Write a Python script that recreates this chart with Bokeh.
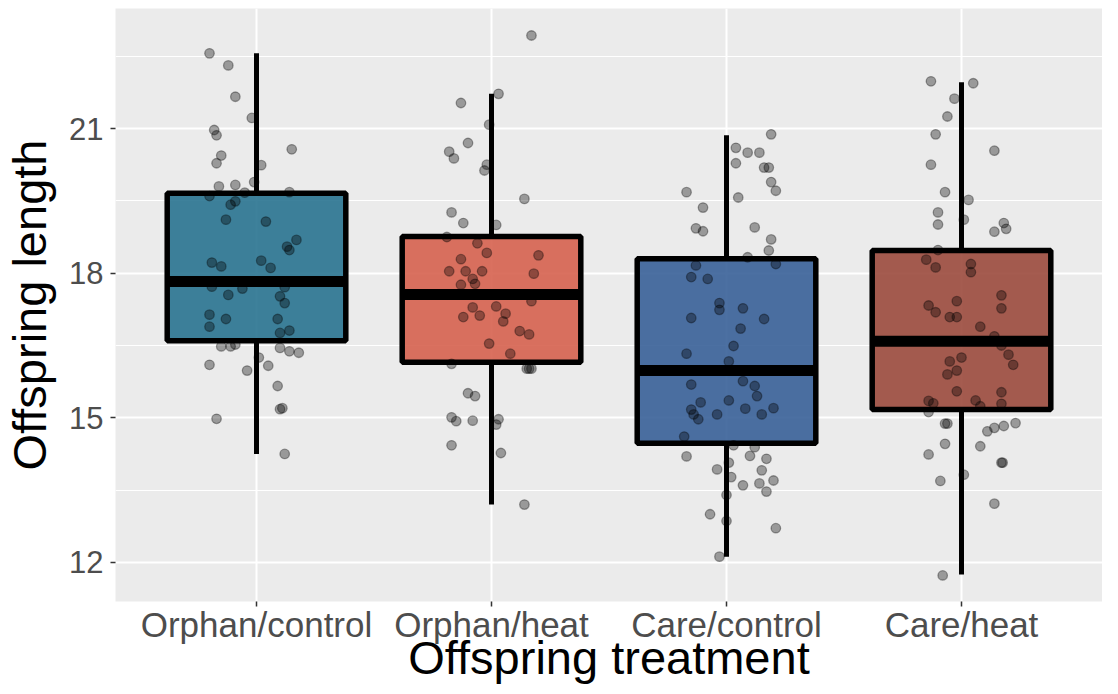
import numpy as np
from bokeh.plotting import figure
from bokeh.models import Range1d, FixedTicker, ColumnDataSource
from bokeh.embed import file_html
from bokeh.resources import INLINE

categories = ["Orphan/control", "Orphan/heat", "Care/control", "Care/heat"]
box_colors = ["#297390", "#D6624F", "#386098", "#9B4A3D"]
q1 = [16.60, 16.15, 14.47, 15.17]
median = [17.83, 17.56, 15.98, 16.59]
q3 = [19.66, 18.76, 18.30, 18.47]
whisker_low = [14.25, 13.20, 12.12, 11.75]
whisker_high = [22.56, 21.72, 20.86, 21.96]

# jittered observations: values and horizontal jitter offsets (category units)
pts1_y = [22.56, 22.31, 21.66, 21.22, 20.97, 20.86, 20.57, 20.44, 20.28, 20.24, 19.89, 19.80, 19.83, 19.67,
          19.68, 19.60, 19.42, 19.49, 19.11, 19.07, 18.69, 18.55, 18.48, 18.22, 18.14, 18.26, 18.11, 17.72,
          17.68, 17.71, 17.55, 17.52, 17.38, 17.14, 17.05, 17.05, 16.89, 16.81, 16.76, 16.48, 16.48, 16.52,
          16.45, 16.38, 16.35, 16.25, 16.10, 16.08, 15.98, 15.66, 15.18, 15.20, 14.98, 14.25]
pts1_dx = [-0.20, -0.12, -0.09, -0.02, -0.18, -0.17, 0.15, -0.15, -0.17, 0.02, -0.01, -0.16, -0.09, -0.05,
           0.14, -0.20, -0.11, -0.09, -0.13, 0.04, 0.17, 0.13, 0.14, -0.19, -0.15, 0.02, 0.06, -0.19,
           -0.06, 0.12, -0.12, 0.10, 0.12, -0.20, -0.13, 0.09, -0.20, 0.14, 0.10, -0.15, -0.11, -0.09,
           0.10, 0.14, 0.18, 0.01, -0.20, 0.05, -0.04, 0.09, 0.10, 0.11, -0.17, 0.12]
pts2_y = [22.93, 21.72, 21.53, 21.08, 20.70, 20.52, 20.38, 20.25, 20.13, 19.54, 19.26, 19.04, 19.00, 18.75,
          18.62, 18.42, 18.37, 18.29, 18.04, 18.04, 18.04, 17.99, 17.88, 17.76, 17.78, 17.42, 17.29, 17.31,
          17.16, 17.09, 17.12, 17.00, 16.80, 16.73, 16.54, 16.33, 16.12, 16.02, 16.02, 16.02, 15.51, 15.45,
          15.01, 14.93, 14.94, 14.97, 14.86, 14.43, 14.27, 13.20]
pts2_dx = [0.17, 0.03, -0.13, -0.01, -0.10, -0.18, -0.16, -0.02, -0.03, 0.14, -0.17, -0.12, 0.02, -0.19,
           -0.06, -0.02, 0.20, -0.13, -0.18, -0.11, -0.04, 0.18, -0.08, -0.13, -0.07, 0.17, -0.08, 0.02,
           0.06, -0.12, -0.05, 0.05, 0.12, 0.16, -0.01, 0.08, -0.17, 0.15, 0.16, 0.17, -0.10, -0.07,
           -0.17, -0.15, -0.08, 0.03, 0.02, -0.17, 0.04, 0.14]
pts3_y = [20.88, 20.60, 20.50, 20.50, 20.28, 20.19, 20.19, 19.89, 19.71, 19.68, 19.57, 19.36, 18.93, 18.87,
          18.95, 18.70, 18.47, 18.33, 18.16, 18.19, 17.92, 17.88, 17.38, 17.24, 17.27, 17.07, 17.05, 16.85,
          16.49, 16.33, 16.17, 15.76, 15.66, 15.69, 15.45, 15.32, 15.36, 15.19, 15.20, 15.17, 15.07, 14.97,
          15.07, 15.07, 14.61, 14.43, 14.39, 14.20, 14.21, 14.15, 14.07, 13.93, 13.91, 13.77, 13.70, 13.60,
          13.64, 13.47, 13.40, 13.00, 12.86, 12.71, 12.12]
pts3_dx = [0.19, 0.04, 0.09, 0.14, 0.04, 0.16, 0.18, 0.19, 0.21, -0.17, 0.05, -0.10, -0.13, -0.10,
           0.12, 0.19, 0.18, 0.09, -0.13, 0.21, -0.15, -0.08, -0.03, -0.03, 0.07, -0.15, 0.16, 0.06,
           0.03, -0.17, 0.01, 0.07, 0.12, -0.15, 0.13, -0.11, 0.01, 0.08, 0.20, -0.15, -0.14, -0.12,
           -0.04, 0.15, -0.18, 0.03, 0.12, -0.17, 0.10, 0.17, 0.01, -0.04, 0.15, 0.02, 0.20, 0.07,
           0.14, 0.17, 0.00, -0.07, 0.00, 0.21, -0.03]
pts4_y = [21.98, 21.94, 21.62, 21.25, 20.88, 20.54, 20.25, 19.68, 19.52, 19.26, 19.11, 19.01, 19.04, 18.92,
          18.86, 18.48, 18.28, 18.12, 18.19, 18.02, 17.54, 17.42, 17.33, 17.19, 17.27, 17.09, 17.09, 16.89,
          16.69, 16.50, 16.31, 16.10, 16.17, 16.25, 15.98, 15.90, 15.55, 15.53, 15.35, 15.30, 15.12, 15.36,
          15.24, 15.29, 14.88, 14.88, 14.72, 14.79, 14.83, 14.89, 14.46, 14.41, 14.24, 14.07, 14.07, 13.82,
          13.69, 13.22, 11.73]
pts4_dx = [-0.13, 0.05, -0.03, -0.06, -0.11, 0.14, -0.13, -0.07, 0.03, -0.10, 0.01, -0.10, 0.18, 0.19,
           0.14, -0.10, -0.15, -0.11, 0.04, 0.04, 0.17, -0.02, -0.14, -0.11, 0.17, -0.05, -0.02, 0.08,
           0.14, 0.17, 0.20, 0.22, -0.05, 0.00, -0.02, -0.06, -0.02, 0.17, -0.14, -0.12, -0.14, 0.06,
           0.08, 0.17, -0.07, -0.06, 0.11, 0.14, 0.18, 0.23, -0.07, 0.08, -0.14, 0.17, 0.175, 0.01,
           -0.09, 0.14, -0.08]

x_title = "Offspring treatment"
y_title = "Offspring length"

positions = list(range(1, len(categories) + 1))
BOX_W = 0.76

p = figure(width=1102, height=686, x_range=Range1d(0.4, 4.6), y_range=Range1d(11.19, 23.49),
           output_backend="svg", toolbar_location=None,
           min_border_left=107, min_border_right=0, min_border_top=8, min_border_bottom=85)
p.background_fill_color = "#EBEBEB"
p.border_fill_color = "white"
p.outline_line_color = None

# grid
p.xgrid.ticker = FixedTicker(ticks=positions)
p.xgrid.grid_line_color = "white"
p.xgrid.grid_line_width = 2
p.ygrid.ticker = FixedTicker(ticks=[12, 15, 18, 21], minor_ticks=[13.5, 16.5, 19.5, 22.5])
p.ygrid.grid_line_color = "white"
p.ygrid.grid_line_width = 2
p.ygrid.minor_grid_line_color = "white"
p.ygrid.minor_grid_line_width = 1

# axes
p.xaxis.ticker = FixedTicker(ticks=positions)
p.xaxis.major_label_overrides = {pos: c for pos, c in zip(positions, categories)}
p.yaxis.ticker = FixedTicker(ticks=[12, 15, 18, 21])
for ax in (p.xaxis[0], p.yaxis[0]):
    ax.axis_line_color = None
    ax.major_tick_line_color = "#333333"
    ax.major_tick_line_width = 1.5
    ax.major_tick_in = 0
    ax.major_tick_out = 5
    ax.minor_tick_line_color = None
    ax.major_label_text_font = "Liberation Sans"
    ax.major_label_text_color = "#4D4D4D"
    ax.major_label_text_line_height = 1.0
    ax.axis_label_text_font = "Liberation Sans"
    ax.axis_label_text_font_style = "normal"
    ax.axis_label_text_color = "black"
    ax.axis_label_text_font_size = "47px"
    ax.axis_label_text_line_height = 1.0
p.xaxis.major_label_text_font_size = "35px"
p.yaxis.major_label_text_font_size = "31px"
p.xaxis.major_label_standoff = -2
p.yaxis.major_label_standoff = 7
p.xaxis.axis_label = x_title
p.yaxis.axis_label = y_title
p.xaxis.axis_label_standoff = -16
p.yaxis.axis_label_standoff = 10

# whiskers
p.segment(x0=positions, y0=q3, x1=positions, y1=whisker_high, line_color="black", line_width=5)
p.segment(x0=positions, y0=q1, x1=positions, y1=whisker_low, line_color="black", line_width=5)
# boxes
p.vbar(x=positions, width=BOX_W, top=q3, bottom=q1, fill_color=box_colors, fill_alpha=0.9,
       line_color="black", line_width=5.5)
# medians
p.segment(x0=[x - BOX_W / 2 for x in positions], x1=[x + BOX_W / 2 for x in positions],
          y0=median, y1=median, line_color="black", line_width=11)

# points
all_y = pts1_y + pts2_y + pts3_y + pts4_y
all_x = ([1 + d for d in pts1_dx] + [2 + d for d in pts2_dx] +
         [3 + d for d in pts3_dx] + [4 + d for d in pts4_dx])
src = ColumnDataSource(dict(x=all_x, y=all_y))
p.scatter("x", "y", source=src, size=9.5, fill_color="black", fill_alpha=0.35,
          line_color="black", line_alpha=0.35, line_width=1.3)

open("out.html", "w").write(file_html(p, INLINE))
